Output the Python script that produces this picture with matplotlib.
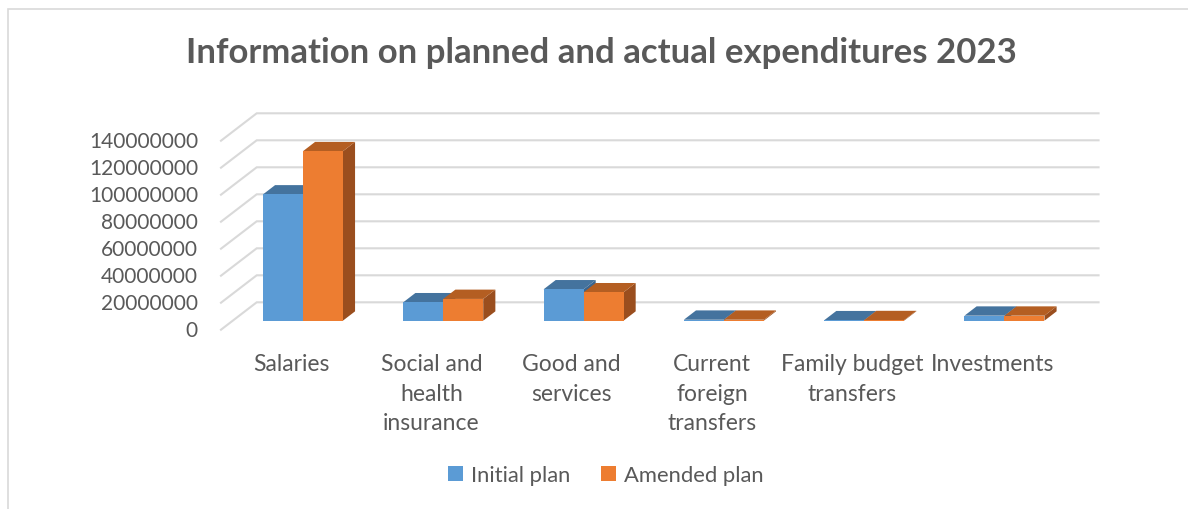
import matplotlib.pyplot as plt
from matplotlib.patches import Polygon, Patch, Rectangle

categories = ["Salaries", "Social and\nhealth\ninsurance", "Good and\nservices",
              "Current\nforeign\ntransfers", "Family budget\ntransfers", "Investments"]
initial_plan = [93.5e6, 13.6e6, 23.2e6, 0.7e6, 0.3e6, 3.7e6]
amended_plan = [125.5e6, 16.1e6, 21.0e6, 0.7e6, 0.4e6, 3.7e6]
y_ticks = [0, 20e6, 40e6, 60e6, 80e6, 100e6, 120e6, 140e6]
series_names = ["Initial plan", "Amended plan"]

# front face / top / side shades per series
colors = {
    0: ("#5B9BD5", "#44739E", "#3A6590"),
    1: ("#ED7D31", "#B45E22", "#9A4E1E"),
}
TEXT = "#595959"
GRID = "#d9d9d9"
FONT = "Lato"

# oblique depth of the floor, in data units (category slots / value units)
DX = 0.2545
DY = 20.3e6
BAR_W = 0.285
D0, D1 = 0.33, 0.67   # bars sit in the middle third of the depth


def proj(x, v, d):
    return (x + d * DX, v + d * DY)


fig = plt.figure(figsize=(11.88, 5.10), dpi=100)
ax = fig.add_axes([0, 0, 1, 1])
ax.set_xlim(-1.575, 6.892)
ax.set_ylim(-132.8e6, 244.96e6)
ax.axis("off")

# outer chart frame (left + top edges)
fig.add_artist(Rectangle((7.5 / 1188, -0.1), 1.2, 1.1 - 9.5 / 510,
                         transform=fig.transFigure, fill=False,
                         edgecolor=GRID, lw=1.2))

n = len(categories)
# gridlines: left wall diagonal then back wall horizontal
for t in y_ticks:
    x0, y0 = proj(0, t, 0)
    x1, y1 = proj(0, t, 1)
    x2, _ = proj(n, t, 1)
    ax.plot([x0, x1, x2], [y0, y1, y1], color=GRID, lw=1.5, zorder=1,
            solid_joinstyle="miter")
    ax.text(-0.164, t, f"{int(t)}", ha="right", va="center", fontsize=15,
            color=TEXT, family=FONT)

# bars
for k in range(n):
    for s, vals in enumerate([initial_plan, amended_plan]):
        v = vals[k]
        left = k + 0.5 - BAR_W + s * BAR_W
        right = left + BAR_W
        front_c, top_c, side_c = colors[s]
        side = [proj(right, 0, D0), proj(right, 0, D1),
                proj(right, v, D1), proj(right, v, D0)]
        top = [proj(left, v, D0), proj(right, v, D0),
               proj(right, v, D1), proj(left, v, D1)]
        ax.add_patch(Polygon(side, closed=True, facecolor=side_c, lw=0, zorder=2))
        ax.add_patch(Polygon(top, closed=True, facecolor=top_c, lw=0, zorder=2))
        fx, fy = proj(left, 0, D0)
        ax.bar(fx, v, width=BAR_W, bottom=fy, align="edge", color=front_c,
               lw=0, zorder=2)

# category labels
for k, lab in enumerate(categories):
    ax.text(k + 0.5, -17.5e6, lab, ha="center", va="top", fontsize=16.5,
            color=TEXT, family=FONT, linespacing=1.5)

fig.text(0.506, 0.897, "Information on planned and actual expenditures 2023",
         ha="center", va="center", fontsize=25, fontweight="bold",
         color=TEXT, family=FONT)

handles = [Patch(facecolor=colors[i][0], label=series_names[i]) for i in range(2)]
fig.legend(handles=handles, loc="center", bbox_to_anchor=(0.51, 0.066),
           ncol=2, frameon=False, handlelength=0.7, handleheight=0.7,
           handletextpad=0.35, columnspacing=1.4,
           prop={"family": FONT, "size": 15.8}, labelcolor=TEXT)

fig.savefig("out.png", dpi=100)
